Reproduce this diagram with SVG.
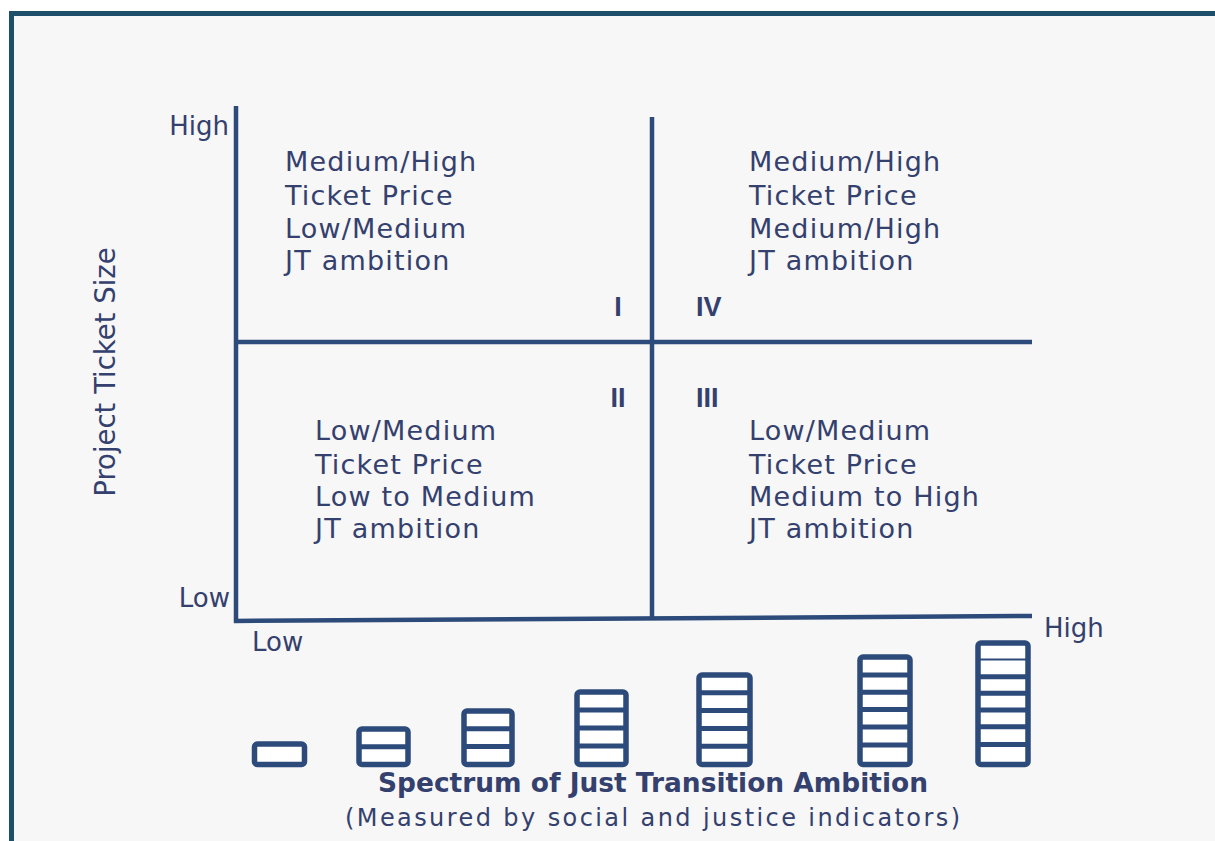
<svg xmlns="http://www.w3.org/2000/svg" width="1215" height="841" viewBox="0 0 1215 841">
<style>
  .t{font-family:"DejaVu Sans","Liberation Sans",sans-serif;fill:#34406e;}
  .q{font-size:27px;letter-spacing:1.2px;}
  .ax{font-size:26px;}
  .rn{font-family:"Liberation Sans","DejaVu Sans",sans-serif;font-size:27px;font-weight:bold;fill:#34406e;}
  .ln{stroke:#2c4a7a;stroke-width:4.5;fill:none;stroke-linecap:butt;}
  .bar{stroke:#2c4a7a;stroke-width:5.5;fill:#ffffff;}
  .div{stroke:#2c4a7a;stroke-width:5;}
</style>
<rect x="0" y="0" width="1215" height="841" fill="#ffffff"/>
<rect x="11.5" y="13.5" width="1230" height="850" fill="#f7f7f7" stroke="#1e4f6a" stroke-width="5"/>

<g id="connectors">
  <line class="ln" x1="236" y1="106" x2="236" y2="623"/>
  <line class="ln" x1="234" y1="621" x2="1032" y2="616"/>
  <line class="ln" x1="652" y1="117" x2="652" y2="620"/>
  <line class="ln" x1="236" y1="342" x2="1032" y2="342"/>
</g>

<g id="y-axis-labels">
  <text class="t ax" x="229" y="135" text-anchor="end">High</text>
  <text class="t ax" x="230" y="607" text-anchor="end">Low</text>
  <text class="t" font-size="27.5" x="0" y="0" text-anchor="middle" transform="translate(115 372) rotate(-90)">Project Ticket Size</text>
</g>

<g id="x-axis-labels">
  <text class="t ax" x="252" y="651">Low</text>
  <text class="t ax" x="1044" y="637">High</text>
</g>

<g id="quadrant-I">
  <text class="t q" x="285" y="171">Medium/High</text>
  <text class="t q" x="285" y="205">Ticket Price</text>
  <text class="t q" x="285" y="238">Low/Medium</text>
  <text class="t q" x="285" y="270">JT ambition</text>
  <text class="rn" x="618" y="316" text-anchor="middle">I</text>
</g>

<g id="quadrant-IV">
  <text class="t q" x="749" y="171">Medium/High</text>
  <text class="t q" x="749" y="205">Ticket Price</text>
  <text class="t q" x="749" y="238">Medium/High</text>
  <text class="t q" x="749" y="270">JT ambition</text>
  <text class="rn" x="696" y="316">IV</text>
</g>

<g id="quadrant-II">
  <text class="t q" x="315" y="440">Low/Medium</text>
  <text class="t q" x="315" y="474">Ticket Price</text>
  <text class="t q" x="315" y="506">Low to Medium</text>
  <text class="t q" x="315" y="538">JT ambition</text>
  <text class="rn" x="618" y="407" text-anchor="middle">II</text>
</g>

<g id="quadrant-III">
  <text class="t q" x="749" y="440">Low/Medium</text>
  <text class="t q" x="749" y="474">Ticket Price</text>
  <text class="t q" x="749" y="506">Medium to High</text>
  <text class="t q" x="749" y="538">JT ambition</text>
  <text class="rn" x="696" y="407">III</text>
</g>

<g id="spectrum-bars">
  <g id="bar1"><rect class="bar" x="254.5" y="744" width="50" height="20.5" rx="3"/></g>
  <g id="bar2"><rect class="bar" x="359" y="729" width="49" height="35.5" rx="3"/>
    <line class="div" x1="359" y1="746.8" x2="408" y2="746.8"/></g>
  <g id="bar3"><rect class="bar" x="464" y="711" width="48" height="53.5" rx="3"/>
    <line class="div" x1="464" y1="728.8" x2="512" y2="728.8"/>
    <line class="div" x1="464" y1="746.6" x2="512" y2="746.6"/></g>
  <g id="bar4"><rect class="bar" x="577" y="692" width="49" height="72.5" rx="3"/>
    <line class="div" x1="577" y1="710" x2="626" y2="710"/>
    <line class="div" x1="577" y1="728" x2="626" y2="728"/>
    <line class="div" x1="577" y1="746" x2="626" y2="746"/></g>
  <g id="bar5"><rect class="bar" x="699" y="675" width="51" height="89.5" rx="3"/>
    <line class="div" x1="699" y1="692.8" x2="750" y2="692.8"/>
    <line class="div" x1="699" y1="710.6" x2="750" y2="710.6"/>
    <line class="div" x1="699" y1="728.4" x2="750" y2="728.4"/>
    <line class="div" x1="699" y1="746.2" x2="750" y2="746.2"/></g>
  <g id="bar6"><rect class="bar" x="860" y="657" width="50" height="107.5" rx="3"/>
    <line class="div" x1="860" y1="675" x2="910" y2="675"/>
    <line class="div" x1="860" y1="692.3" x2="910" y2="692.3"/>
    <line class="div" x1="860" y1="709.6" x2="910" y2="709.6"/>
    <line class="div" x1="860" y1="727" x2="910" y2="727"/>
    <line class="div" x1="860" y1="745" x2="910" y2="745"/></g>
  <g id="bar7"><rect class="bar" x="978" y="643" width="50" height="121.5" rx="3"/>
    <line stroke="#2c4a7a" stroke-width="2" x1="978" y1="659.5" x2="1028" y2="659.5"/>
    <line class="div" x1="978" y1="676.7" x2="1028" y2="676.7"/>
    <line class="div" x1="978" y1="693.3" x2="1028" y2="693.3"/>
    <line class="div" x1="978" y1="710" x2="1028" y2="710"/>
    <line class="div" x1="978" y1="726.7" x2="1028" y2="726.7"/>
    <line class="div" x1="978" y1="744.5" x2="1028" y2="744.5"/></g>
</g>

<g id="x-axis-title">
  <text class="t" font-size="26" font-weight="bold" x="378" y="792" textLength="550" lengthAdjust="spacingAndGlyphs">Spectrum of Just Transition Ambition</text>
  <text class="t" font-size="24" x="345" y="826" textLength="615" lengthAdjust="spacing">(Measured by social and justice indicators)</text>
</g>
</svg>
